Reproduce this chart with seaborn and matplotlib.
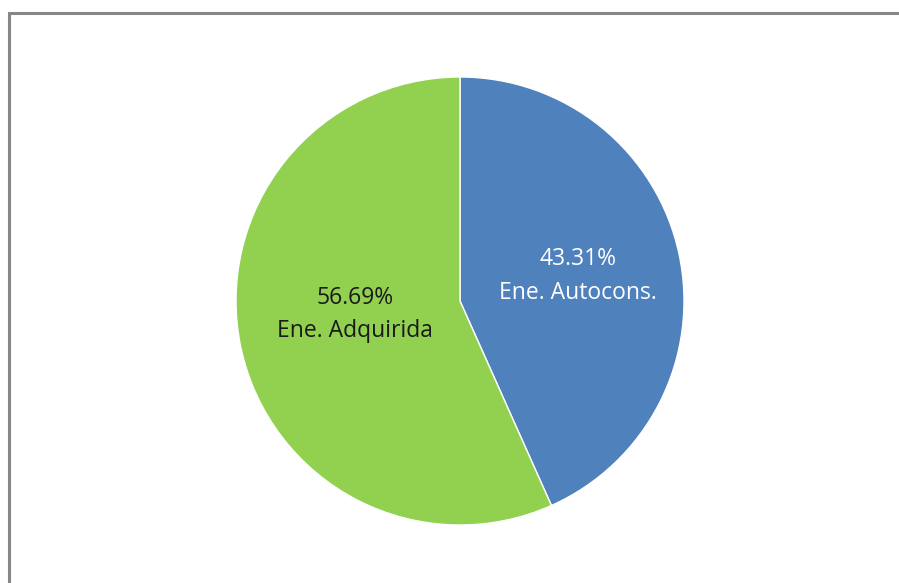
import matplotlib
matplotlib.use("Agg")
import matplotlib.pyplot as plt
from matplotlib.lines import Line2D
import numpy as np
import seaborn as sns

categories = ["Ene. Autocons.", "Ene. Adquirida"]
shares = [43.31, 56.69]
slice_colors = ["#4F81BD", "#92D050"]
label_colors = ["white", "#1a1a1a"]

sns.set_theme(style="white")
plt.rcParams["font.family"] = ["Open Sans", "DejaVu Sans"]

W, H = 899, 583
fig = plt.figure(figsize=(W / 100, H / 100), dpi=100)
fig.patch.set_facecolor("white")

# pie area: centre (460, 301) px, radius 224 px
cx, cy, r = 460, 301, 224
ax = fig.add_axes([(cx - r) / W, (H - cy - r) / H, 2 * r / W, 2 * r / H])

wedges, _ = ax.pie(
    shares,
    colors=slice_colors,
    startangle=90,
    counterclock=False,
    radius=1.0,
    wedgeprops=dict(edgecolor="white", linewidth=1.0),
)

# labels inside each slice: percentage over category name,
# placed along the slice bisector with a small best-fit nudge
label_dist = [0.54, 0.48]
label_nudge = [(0.0, 0.0), (0.0, 0.04)]
for w, cat, val, tc, d, (nx, ny) in zip(wedges, categories, shares,
                                         label_colors, label_dist, label_nudge):
    mid = np.deg2rad((w.theta1 + w.theta2) / 2)
    ax.text(d * np.cos(mid) + nx, d * np.sin(mid) + ny, f"{val:.2f}%\n{cat}",
            ha="center", va="center", color=tc, fontsize=16.5,
            linespacing=1.55)

ax.set_xlim(-1, 1)
ax.set_ylim(-1, 1)
ax.set_aspect("equal")
ax.axis("off")

# chart frame (left and top edges visible)
x0, y0 = 8.5 / W, 1 - 12.5 / H
fig.add_artist(Line2D([x0, x0, 1.0], [0.0, y0, y0], transform=fig.transFigure,
                      color="#878787", linewidth=2.2, solid_joinstyle="miter"))

fig.savefig("out.png", dpi=100, facecolor="white")
